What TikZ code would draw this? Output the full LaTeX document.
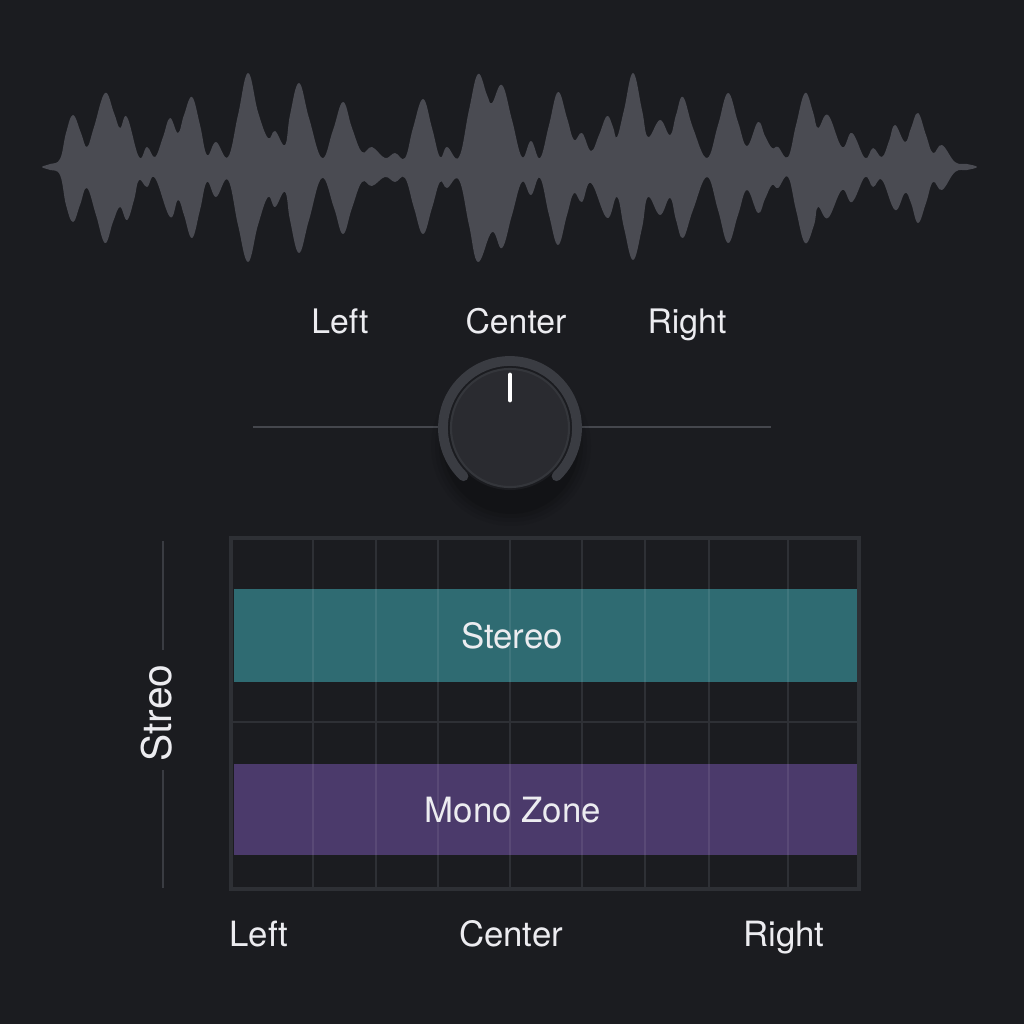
\documentclass[tikz,border=0pt]{standalone}
\usepackage{fontspec}
\setmainfont{TeX Gyre Heros}
\definecolor{bg}{HTML}{1B1C20}
\definecolor{wavec}{HTML}{4A4B52}
\definecolor{gridc}{HTML}{2E3035}
\definecolor{ringc}{HTML}{3A3C42}
\definecolor{knobc}{HTML}{2A2B30}
\definecolor{knobedge}{HTML}{34363B}
\definecolor{linec}{HTML}{45474D}
\definecolor{teal}{HTML}{2F6B72}
\definecolor{plum}{HTML}{4B3A6B}
\definecolor{txt}{HTML}{ECECF0}
\begin{document}
\begin{tikzpicture}[x=0.01cm,y=-0.01cm,
  lbl/.style={text=txt,inner sep=0pt,text height=0.72em,text depth=0pt,font=\fontsize{9.6}{11}\selectfont},
  blbl/.style={text=txt,inner sep=0pt,text height=0.72em,text depth=0pt,font=\fontsize{9.9}{12}\selectfont},
  gridline/.style={draw=gridc,line width=0.6pt},
  overline/.style={draw=white,draw opacity=0.08,line width=0.6pt}]
\useasboundingbox (0,0) rectangle (1024,1024);
\fill[bg] (0,0) rectangle (1024,1024);

% waveform
\fill[wavec] plot[smooth cycle, tension=0.68] coordinates {
(42,167) (50,164) (60,159) (66,133) (73,115) (81,133) (87,147) (94,127) (105,93) (114,113) (120,128) (127,117) (139,157) (147,147) (155,157) (163,137) (170,118) (178,133) (184,115) (192,97) (200,125) (207,155) (216,142) (228,157) (238,115) (248,73) (258,112) (268,138) (275,131) (285,145) (290,115) (299,83) (309,118) (322,158) (333,130) (343,102) (352,128) (362,152) (372,147) (385,158) (395,153) (405,158) (413,128) (423,99) (432,128) (440,157) (447,147) (459,157) (469,110) (478,74) (487,95) (492,103) (502,85) (512,120) (522,157) (531,141) (540,158) (549,125) (558,92) (567,118) (574,140) (582,133) (591,151) (599,135) (607,116) (613,127) (617,137) (624,110) (633,73) (642,110) (648,137) (660,120) (670,135) (676,115) (683,97) (693,128) (707,158) (718,125) (728,93) (738,122) (747,146) (758,122) (765,136) (772,148) (778,147) (788,157) (796,125) (805,93) (813,112) (818,128) (828,115) (842,147) (852,133) (865,158) (873,148) (882,157) (889,141) (895,125) (905,142) (911,128) (918,113) (926,135) (933,153) (942,145) (955,162) (967,164) (977,167)
(967,170) (955,172) (942,190) (933,182) (926,203) (918,223) (911,203) (905,193) (895,210) (882,180) (873,187) (865,177) (852,202) (842,190) (828,218) (818,207) (814,225) (805,243) (796,210) (788,177) (778,188) (772,185) (765,199) (758,213) (747,190) (738,215) (728,243) (718,210) (707,177) (693,210) (683,238) (676,220) (670,198) (660,215) (648,197) (642,228) (633,260) (624,228) (617,197) (607,218) (591,183) (582,202) (574,193) (567,215) (558,245) (549,215) (540,178) (531,195) (522,182) (512,215) (502,248) (492,232) (478,262) (469,225) (459,180) (447,188) (440,182) (432,208) (423,234) (414,208) (405,178) (395,182) (385,177) (372,186) (362,182) (352,208) (343,234) (334,208) (322,178) (309,220) (299,253) (290,220) (285,192) (275,207) (268,197) (258,225) (248,262) (238,225) (228,180) (216,197) (207,182) (200,210) (192,238) (184,215) (178,200) (170,217) (155,178) (147,187) (139,180) (134,200) (127,220) (120,207) (113,222) (105,243) (96,215) (87,188) (80,205) (73,222) (66,205) (60,175) (50,170)};

% top labels
\node[lbl] (tleft) at (340,321) {Left};
\node[lbl] (tcenter) at (516,321) {Center};
\node[lbl] (tright) at (687,321) {Right};

% pan slider line
\coordinate (sl) at (253,427);
\coordinate (sr) at (771,427);
\draw[linec,line width=0.6pt] (sl) -- (sr);

% knob
\foreach \r/\o in {80/0.05,76/0.06,72/0.08,68/0.1} \fill[black,opacity=\o] (511,446) circle (\r);
\fill[bg] (510,428) circle (62);
\draw[ringc,line width=2.8pt,line cap=round] (510,428) ++(134:67) arc[start angle=134,end angle=406,radius=67];
\filldraw[fill=knobc,draw=knobedge,line width=0.6pt] (510,428) circle (59);
\coordinate (kc) at (510,428);
\coordinate (ka) at (510,375);
\coordinate (kb) at (510,400);
\draw[white,line width=1.4pt,line cap=round] (ka) -- (kb);

% grid
\foreach \x in {313,376,438,510,582,645,709,788} \draw[gridline] (\x,538) -- (\x,889);
\draw[gridline] (231,722) -- (859,722);
\draw[draw=gridc,line width=0.9pt] (231,538) rectangle (859,889);

% bands
\fill[teal] (234,589) rectangle (857,682);
\fill[plum] (234,764) rectangle (857,855);
\foreach \x in {313,376,438,510,582,645,709,788} {
  \draw[overline] (\x,589) -- (\x,682);
  \draw[overline] (\x,764) -- (\x,855);
}
\node[blbl] (stereo) at (512,636) {Stereo};
\node[blbl] (mono) at (513,810) {Mono Zone};

% left axis
\coordinate (a1) at (163,541);
\coordinate (a2) at (163,650);
\coordinate (a3) at (163,770);
\coordinate (a4) at (163,888);
\draw[ringc,line width=0.6pt] (a1) -- (a2);
\draw[ringc,line width=0.6pt] (a3) -- (a4);
\node[text=txt,inner sep=0pt,text height=0.72em,text depth=0pt,rotate=90,font=\fontsize{11.6}{13}\selectfont] (streo) at (159,713) {Streo};

% bottom labels
\node[blbl] (bleft) at (259,934) {Left};
\node[blbl] (bcenter) at (511,934) {Center};
\node[blbl] (bright) at (784,934) {Right};
\end{tikzpicture}
\end{document}
